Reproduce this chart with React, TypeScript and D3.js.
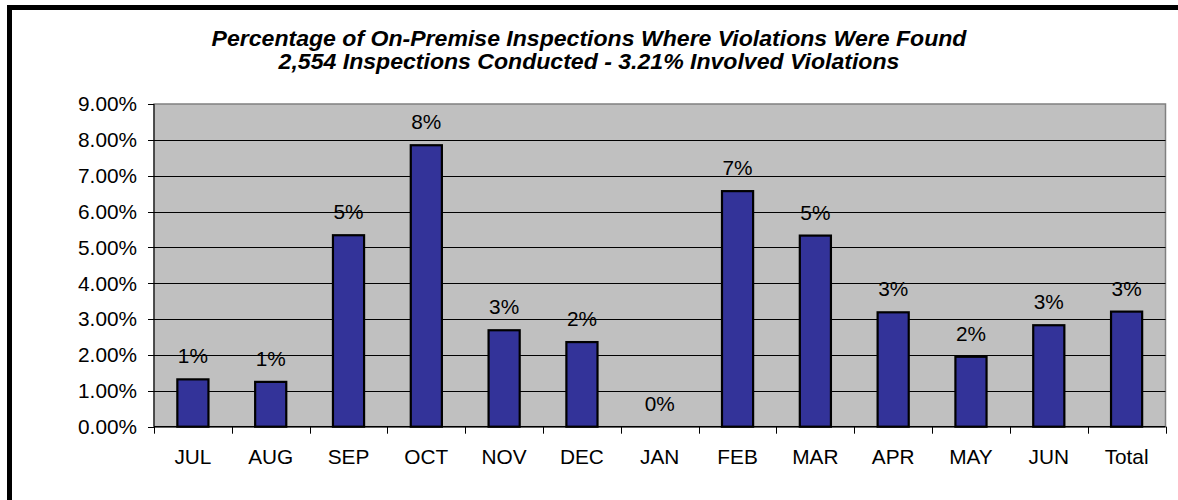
import React from "react";
import * as d3 from "d3";

const categories = ["JUL", "AUG", "SEP", "OCT", "NOV", "DEC", "JAN", "FEB", "MAR", "APR", "MAY", "JUN", "Total"];
const values = [0.0132, 0.0125, 0.0534, 0.0785, 0.0269, 0.0236, 0.0, 0.0657, 0.0533, 0.0319, 0.0195, 0.0283, 0.0321];
const yTicks = [0, 0.01, 0.02, 0.03, 0.04, 0.05, 0.06, 0.07, 0.08, 0.09];
const titleLines = [
  "Percentage of On-Premise Inspections Where Violations Were Found",
  "2,554 Inspections Conducted - 3.21% Involved Violations",
];

const W = 1178;
const H = 500;
const plot = { left: 154, top: 104, right: 1165.5, bottom: 426.7 };
const FONT = "Arial, 'Liberation Sans', Helvetica, sans-serif";
const LABEL_SIZE = 20.8;

export default function App() {
  const band = (plot.right - plot.left) / categories.length;
  const y = d3.scaleLinear().domain([0, 0.09]).range([plot.bottom, plot.top]);
  const fmtTick = d3.format(".2%");
  const fmtLabel = d3.format(".0%");
  const bw = band * 0.4;

  return (
    <svg
      width={W}
      height={H}
      style={{ position: "absolute", left: 0, top: 0, background: "#fff" }}
      fontFamily={FONT}
    >
      <rect x={0} y={0} width={W} height={H} fill="#fff" />
      {/* outer border (top and left visible) */}
      <line x1={7} y1={7.5} x2={W} y2={7.5} stroke="#000" strokeWidth={5} />
      <line x1={9.5} y1={5} x2={9.5} y2={H} stroke="#000" strokeWidth={5} />

      {/* title */}
      <g transform="translate(589,0) scale(1.04,1)">
        {titleLines.map((t, i) => (
          <text
            key={i}
            x={0}
            y={46 + i * 23}
            textAnchor="middle"
            fontSize={22.2}
            fontWeight="bold"
            fontStyle="italic"
            fill="#000"
          >
            {t}
          </text>
        ))}
      </g>

      {/* plot area */}
      <rect
        x={plot.left}
        y={plot.top}
        width={plot.right - plot.left}
        height={plot.bottom - plot.top}
        fill="#C0C0C0"
        stroke="#808080"
        strokeWidth={1.5}
      />
      {/* gridlines */}
      {yTicks.slice(1, -1).map((t) => (
        <line
          key={t}
          x1={plot.left}
          x2={plot.right}
          y1={Math.round(y(t)) + 0.5}
          y2={Math.round(y(t)) + 0.5}
          stroke="#000"
          strokeWidth={1}
        />
      ))}

      {/* y axis */}
      <line x1={plot.left} x2={plot.left} y1={plot.top} y2={plot.bottom} stroke="#000" strokeWidth={1} />
      {yTicks.map((t) => (
        <g key={t}>
          <line x1={plot.left - 6} x2={plot.left} y1={Math.round(y(t)) + 0.5} y2={Math.round(y(t)) + 0.5} stroke="#000" />
          <text x={137} y={y(t) + 7.3} textAnchor="end" fontSize={LABEL_SIZE} fill="#000">
            {fmtTick(t)}
          </text>
        </g>
      ))}

      {/* bars */}
      {categories.map((c, i) => {
        const cx = plot.left + band * (i + 0.5);
        const v = values[i];
        const top = y(v);
        return (
          <g key={c}>
            {v > 0 && (
              <rect
                x={cx - bw / 2}
                y={top}
                width={bw}
                height={plot.bottom - top}
                fill="#333399"
                stroke="#000"
                strokeWidth={2.2}
              />
            )}
            <text x={cx} y={top - 16} textAnchor="middle" fontSize={LABEL_SIZE} fill="#000">
              {fmtLabel(v)}
            </text>
            <text x={cx} y={464} textAnchor="middle" fontSize={LABEL_SIZE} fill="#000">
              {c}
            </text>
          </g>
        );
      })}

      {/* x axis */}
      <line x1={plot.left} x2={plot.right} y1={plot.bottom} y2={plot.bottom} stroke="#000" strokeWidth={1.5} />
      {d3.range(categories.length + 1).map((i) => {
        const xx = Math.round(plot.left + band * i) + 0.5;
        return <line key={i} x1={xx} x2={xx} y1={plot.bottom} y2={plot.bottom + 7} stroke="#000" />;
      })}
    </svg>
  );
}
